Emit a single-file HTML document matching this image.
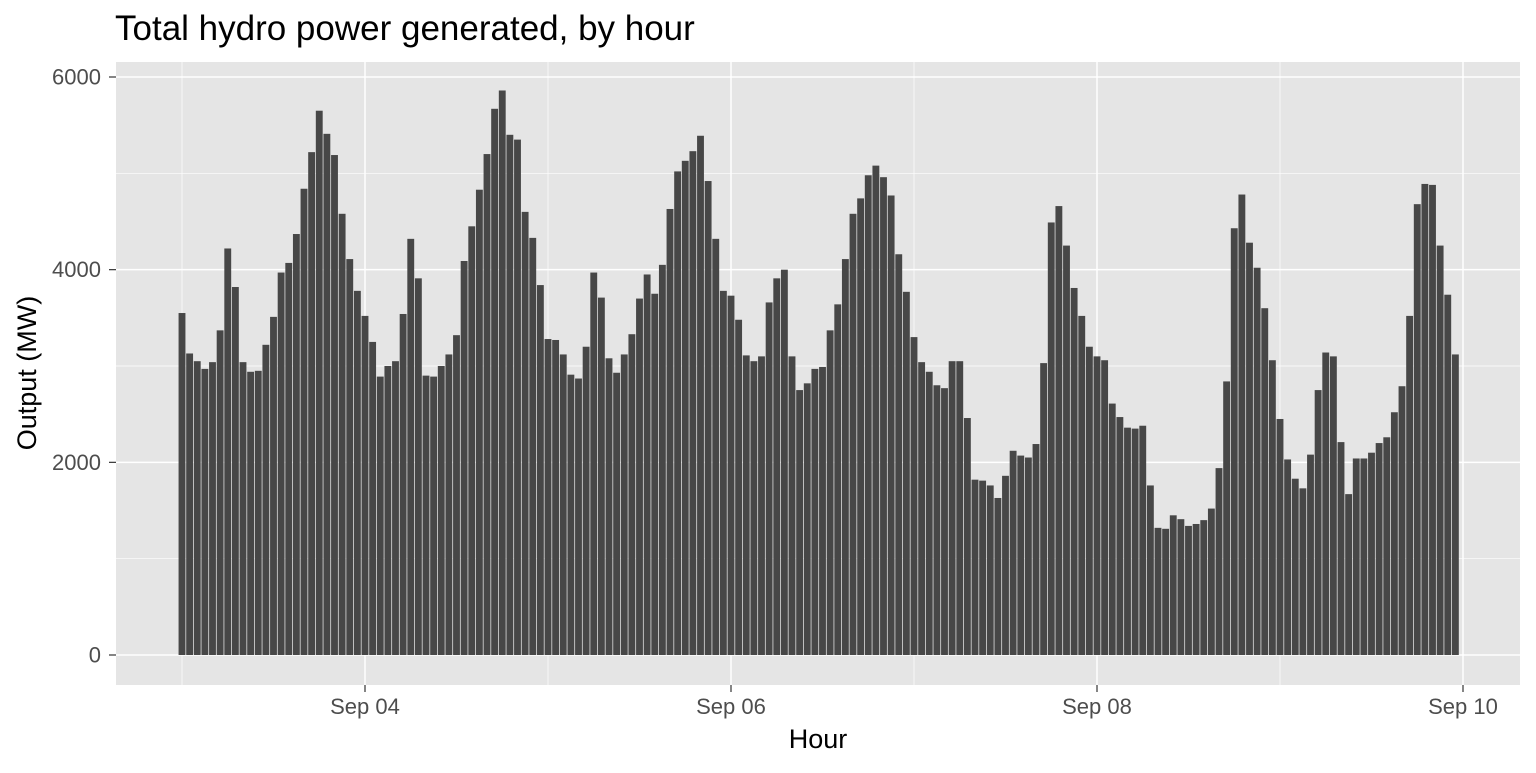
<!DOCTYPE html>
<html><head><meta charset="utf-8"><style>
body{margin:0;background:#fff;font-family:"Liberation Sans",Arial,sans-serif}
</style></head><body>
<svg id="chart" width="1536" height="768" xmlns="http://www.w3.org/2000/svg">
<text x="115" y="40" font-size="35" fill="#000">Total hydro power generated, by hour</text>
<rect x="116" y="62" width="1404" height="623" fill="#e5e5e5"/>
<g id="grid"></g>
<g id="bars"></g>
<g id="axes"></g>
<text x="818" y="748" font-size="27" text-anchor="middle" fill="#000">Hour</text>
<text transform="translate(36,373) rotate(-90)" font-size="27" text-anchor="middle" fill="#000">Output (MW)</text>
</svg>
<script>
const hourValues = [
3550,3130,3050,2970,3040,3370,4220,3820,3040,2940,2950,3220,3510,3970,4070,4370,4840,5220,5650,5410,5190,4580,4110,3780,
3520,3250,2890,3000,3050,3540,4320,3910,2900,2890,3000,3120,3320,4090,4450,4830,5200,5670,5860,5400,5350,4600,4330,3840,
3280,3270,3120,2910,2870,3200,3970,3710,3080,2930,3120,3330,3700,3950,3750,4050,4630,5020,5130,5230,5390,4920,4320,3780,
3730,3480,3110,3050,3100,3660,3910,4000,3100,2750,2820,2970,2990,3370,3640,4110,4580,4740,4980,5080,4960,4770,4160,3770,
3300,3040,2940,2800,2770,3050,3050,2460,1820,1810,1760,1630,1860,2120,2070,2050,2190,3030,4490,4660,4250,3810,3520,3200,
3100,3060,2610,2470,2360,2350,2380,1760,1320,1310,1450,1410,1340,1360,1400,1520,1940,2840,4430,4780,4280,4020,3600,3060,
2450,2030,1830,1730,2080,2750,3140,3100,2210,1670,2040,2040,2100,2200,2260,2520,2790,3520,4680,4890,4880,4250,3740,3120];
const yTicks = [0,2000,4000,6000];
const yMinor = [1000,3000,5000];
const xTickDays = [1,3,5,7];
const xTickLabels = ["Sep 04","Sep 06","Sep 08","Sep 10"];
const xMinorDays = [0,2,4,6];

const NS="http://www.w3.org/2000/svg";
const x0=182, dayPx=183, hourPx=dayPx/24;
const xHour=h=>x0+h*hourPx;
const xDay=d=>x0+d*dayPx;
const yVal=v=>655-v*(578/6000);
function mk(tag,attrs,parent){const e=document.createElementNS(NS,tag);for(const k in attrs)e.setAttribute(k,attrs[k]);parent.appendChild(e);return e;}
const grid=document.getElementById('grid'),bars=document.getElementById('bars'),axes=document.getElementById('axes');
yMinor.forEach(v=>{const l=mk('line',{x1:116,x2:1520,y1:yVal(v),y2:yVal(v),stroke:'#fff','stroke-width':0.7},grid);

});
xMinorDays.forEach(d=>{const l=mk('line',{x1:xDay(d),x2:xDay(d),y1:62,y2:685,stroke:'#fff','stroke-width':0.7},grid);

});
yTicks.forEach(v=>{const l=mk('line',{x1:116,x2:1520,y1:yVal(v),y2:yVal(v),stroke:'#fff','stroke-width':1.5},grid);


const t=mk('line',{x1:109,x2:116,y1:yVal(v),y2:yVal(v),stroke:'#333','stroke-width':1.2},axes);


const tx=mk('text',{x:101,y:yVal(v)+7.5,'font-size':22,'text-anchor':'end',fill:'#4d4d4d'},axes);tx.textContent=v;

});
xTickDays.forEach((d,i)=>{const l=mk('line',{x1:xDay(d),x2:xDay(d),y1:62,y2:685,stroke:'#fff','stroke-width':1.5},grid);


const t=mk('line',{x1:xDay(d),x2:xDay(d),y1:685,y2:692,stroke:'#333','stroke-width':1.2},axes);


const tx=mk('text',{x:xDay(d),y:714,'font-size':22,'text-anchor':'middle',fill:'#4d4d4d'},axes);tx.textContent=xTickLabels[i];

});
const bw=hourPx*0.9;
hourValues.forEach((v,h)=>{const r=mk('rect',{x:xHour(h)-bw/2,y:yVal(v),width:bw,height:yVal(0)-yVal(v),fill:'#474747'},bars);

});
</script>
</body></html>
